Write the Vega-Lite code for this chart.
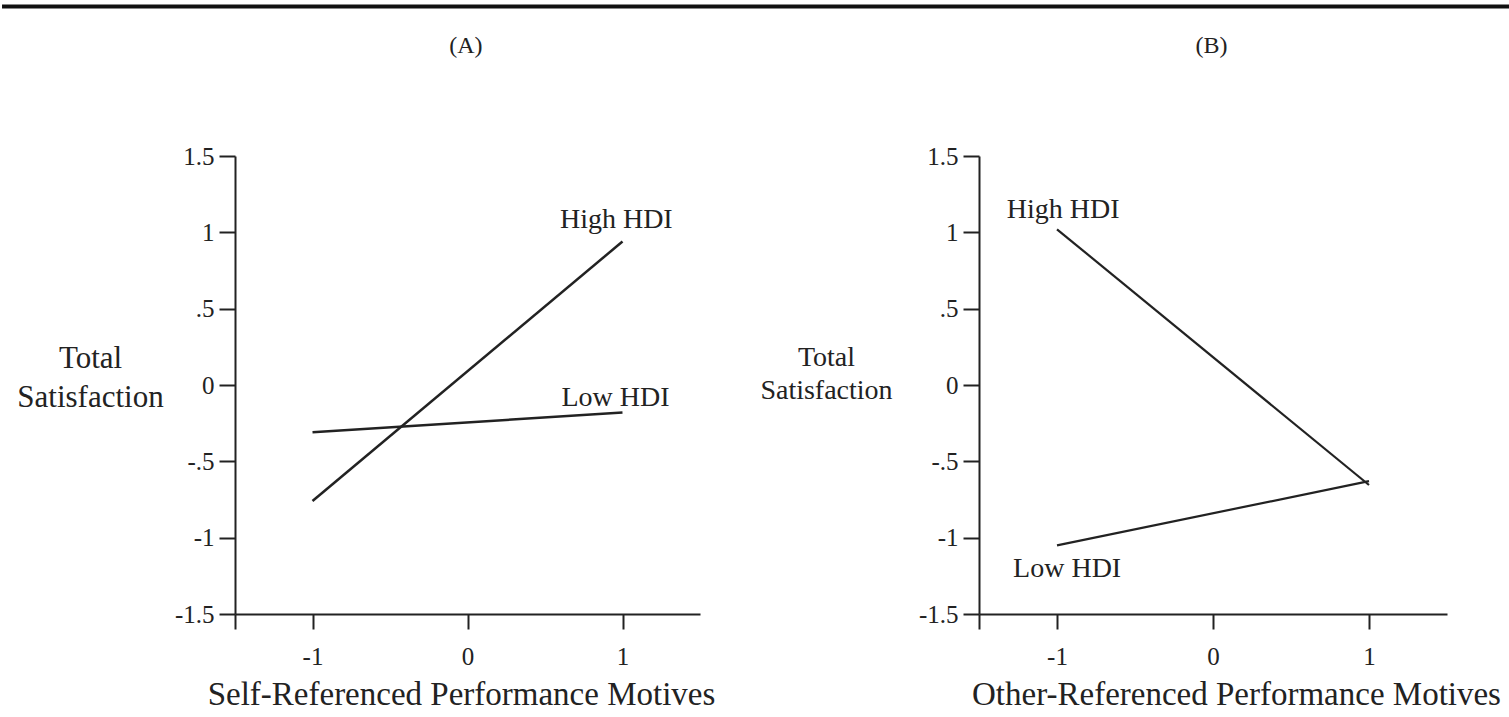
{
  "$schema": "https://vega.github.io/schema/vega-lite/v6.json",
  "padding": {"top": 4, "left": 0, "right": 0, "bottom": 0},
  "autosize": {"type": "pad"},
  "background": "white",
  "bounds": "flush",
  "spacing": 279,
  "config": {
    "font": "Liberation Serif",
    "view": {"stroke": null},
    "axis": {
      "grid": false,
      "domainColor": "#222",
      "tickColor": "#222",
      "labelColor": "#222",
      "titleColor": "#222",
      "labelFont": "Liberation Serif",
      "titleFont": "Liberation Serif",
      "titleFontWeight": "normal",
      "domainWidth": 2,
      "tickWidth": 2
    }
  },
  "datasets": {
    "lines": [
      {"panel": "A", "group": "High HDI", "x": -1, "y": -0.76},
      {"panel": "A", "group": "High HDI", "x": 1, "y": 0.94},
      {"panel": "A", "group": "Low HDI", "x": -1, "y": -0.31},
      {"panel": "A", "group": "Low HDI", "x": 1, "y": -0.18},
      {"panel": "B", "group": "High HDI", "x": -1, "y": 1.02},
      {"panel": "B", "group": "High HDI", "x": 1, "y": -0.655},
      {"panel": "B", "group": "Low HDI", "x": -1, "y": -1.05},
      {"panel": "B", "group": "Low HDI", "x": 1, "y": -0.63}
    ],
    "labels": [
      {"panel": "A", "text": "High HDI", "x": 0.96, "y": 1.08, "size": 28},
      {"panel": "A", "text": "Low HDI", "x": 0.955, "y": -0.082, "size": 28},
      {"panel": "A", "text": "(A)", "x": -0.01, "y": 2.22, "size": 24},
      {"panel": "B", "text": "High HDI", "x": -0.96, "y": 1.146, "size": 28},
      {"panel": "B", "text": "Low HDI", "x": -0.935, "y": -1.205, "size": 28},
      {"panel": "B", "text": "(B)", "x": -0.01, "y": 2.22, "size": 24}
    ]
  },
  "hconcat": [
    {
      "width": 465,
      "height": 458,
      "layer": [
        {
          "data": {"name": "lines"},
          "transform": [{"filter": "datum.panel == 'A'"}],
          "mark": {"type": "line", "color": "#222", "strokeWidth": 2.5},
          "encoding": {
            "x": {
              "field": "x", "type": "quantitative",
              "scale": {"domain": [-1.5, 1.5], "nice": false, "zero": false},
              "axis": {
                "values": [-1.5, -1, 0, 1],
                "labelExpr": "datum.value == -1.5 ? '' : toString(datum.value)",
                "title": "Self-Referenced Performance Motives",
                "tickSize": 15, "labelFontSize": 25, "labelPadding": 15,
                "titleFontSize": 33, "titlePadding": 9, "titleX": 226
              }
            },
            "y": {
              "field": "y", "type": "quantitative",
              "scale": {"domain": [-1.5, 1.5], "nice": false, "zero": false},
              "axis": {
                "values": [-1.5, -1, -0.5, 0, 0.5, 1, 1.5],
                "labelExpr": "datum.value == 0.5 ? '.5' : datum.value == -0.5 ? '-.5' : toString(datum.value)",
                "title": ["Total", "Satisfaction"],
                "titleAngle": 0, "titleAlign": "center", "titleBaseline": "middle",
                "titleX": -145, "titleY": 202, "titleFontSize": 31, "titleLineHeight": 39,
                "tickSize": 16, "labelPadding": 5, "labelFontSize": 25
              }
            },
            "detail": {"field": "group"}
          }
        },
        {
          "data": {"name": "labels"},
          "transform": [{"filter": "datum.panel == 'A'"}],
          "mark": {"type": "text", "color": "#222", "baseline": "middle", "align": "center", "clip": false},
          "encoding": {
            "x": {"field": "x", "type": "quantitative"},
            "y": {"field": "y", "type": "quantitative"},
            "text": {"field": "text"},
            "size": {"field": "size", "type": "quantitative", "scale": null}
          }
        },
        {
          "data": {"values": [{}]},
          "mark": {"type": "rule", "color": "#111", "strokeWidth": 4, "strokeCap": "butt", "clip": false},
          "encoding": {
            "x": {"datum": -3.003},
            "x2": {"datum": 6.729},
            "y": {"datum": 2.48}
          }
        }
      ]
    },
    {
      "width": 468,
      "height": 458,
      "layer": [
        {
          "data": {"name": "lines"},
          "transform": [{"filter": "datum.panel == 'B'"}],
          "mark": {"type": "line", "color": "#222", "strokeWidth": 2.2},
          "encoding": {
            "x": {
              "field": "x", "type": "quantitative",
              "scale": {"domain": [-1.5, 1.5], "nice": false, "zero": false},
              "axis": {
                "values": [-1.5, -1, 0, 1],
                "labelExpr": "datum.value == -1.5 ? '' : toString(datum.value)",
                "title": "Other-Referenced Performance Motives",
                "tickSize": 15, "labelFontSize": 25, "labelPadding": 15,
                "titleFontSize": 33, "titlePadding": 9, "titleX": 257
              }
            },
            "y": {
              "field": "y", "type": "quantitative",
              "scale": {"domain": [-1.5, 1.5], "nice": false, "zero": false},
              "axis": {
                "values": [-1.5, -1, -0.5, 0, 0.5, 1, 1.5],
                "labelExpr": "datum.value == 0.5 ? '.5' : datum.value == -0.5 ? '-.5' : toString(datum.value)",
                "title": ["Total", "Satisfaction"],
                "titleAngle": 0, "titleAlign": "center", "titleBaseline": "middle",
                "titleX": -153, "titleY": 201, "titleFontSize": 28, "titleLineHeight": 33,
                "tickSize": 16, "labelPadding": 5, "labelFontSize": 25
              }
            },
            "detail": {"field": "group"}
          }
        },
        {
          "data": {"name": "labels"},
          "transform": [{"filter": "datum.panel == 'B'"}],
          "mark": {"type": "text", "color": "#222", "baseline": "middle", "align": "center", "clip": false},
          "encoding": {
            "x": {"field": "x", "type": "quantitative"},
            "y": {"field": "y", "type": "quantitative"},
            "text": {"field": "text"},
            "size": {"field": "size", "type": "quantitative", "scale": null}
          }
        }
      ]
    }
  ]
}
